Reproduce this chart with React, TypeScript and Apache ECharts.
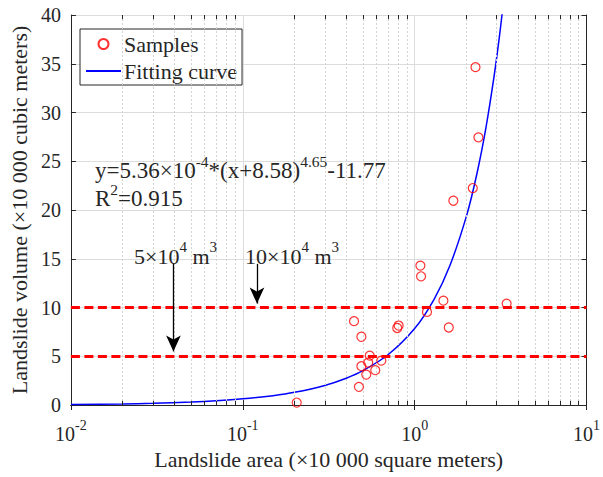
import React, { useEffect, useRef } from "react";
import * as echarts from "echarts";

const sampleArea = [0.206, 1.08, 1.09, 1.47, 3.43, 1.18, 0.444, 0.807, 0.792, 1.58, 0.49, 0.548, 0.537, 0.49, 0.64, 0.59, 0.523, 0.474, 2.26, 2.35, 2.18, 1.68];
const sampleVolume = [0.25, 14.3, 13.2, 10.7, 10.4, 9.55, 8.6, 8.15, 7.9, 7.95, 7.0, 5.07, 4.35, 3.98, 4.55, 3.57, 3.12, 1.86, 34.65, 27.45, 22.25, 20.95];

const curveArea = [0.01, 0.02, 0.03, 0.05, 0.07, 0.1, 0.15, 0.2, 0.3, 0.4, 0.5, 0.7, 1.0, 1.3, 1.6, 2.0, 2.3, 2.6, 2.9, 3.1, 3.25];
const curveVolume = [0.04, 0.1, 0.17, 0.3, 0.43, 0.63, 0.96, 1.3, 2.01, 2.75, 3.52, 5.15, 7.84, 10.87, 14.25, 19.35, 23.67, 28.45, 33.72, 37.52, 40.53];

const thresholdVolumes = [5, 10];
const minorTickValues = [
  0.02, 0.03, 0.04, 0.05, 0.06, 0.07, 0.08, 0.09,
  0.2, 0.3, 0.4, 0.5, 0.6, 0.7, 0.8, 0.9,
  2, 3, 4, 5, 6, 7, 8, 9,
];
// arrows: [x, yStart, yTip]
const arrowSpecs = [
  [0.0395, 14.47, 5.5],
  [0.121, 14.47, 10.4],
];

const X_MIN = 0.01;
const X_MAX = 10;
const Y_MIN = 0;
const Y_MAX = 40;
const Y_STEP = 5;

const FONT = "'Liberation Serif', 'Times New Roman', serif";
const TXT = "#262626";

const richMain = {
  a: { fontSize: 22, fontFamily: FONT, fill: TXT, lineHeight: 28, verticalAlign: "bottom" },
  s: { fontSize: 15, fontFamily: FONT, fill: TXT, lineHeight: 15, verticalAlign: "top" },
};
const richEq = {
  a: { fontSize: 23, fontFamily: FONT, fill: TXT, lineHeight: 28, verticalAlign: "bottom" },
  s: { fontSize: 15.5, fontFamily: FONT, fill: TXT, lineHeight: 15, verticalAlign: "top" },
};

export default function App() {
  const ref = useRef<HTMLDivElement>(null);
  useEffect(() => {
    document.body.style.margin = "0";
    if (!ref.current) return;
    const chart = echarts.init(ref.current, null, { renderer: "svg" });
    const samples = sampleArea.map((x, i) => [x, sampleVolume[i]]);
    const curve = curveArea.map((x, i) => [x, curveVolume[i]]);
    const minorTickLen = 0.42;
    const option: any = {
      animation: false,
      backgroundColor: "#fff",
      textStyle: { fontFamily: FONT },
      grid: { left: 65, right: 15, top: 15, bottom: 72, containLabel: false },
      legend: {
        data: [
          { name: "Samples" },
          { name: "Fitting curve", itemStyle: { color: "rgba(0,0,0,0)", borderWidth: 0, opacity: 0 } },
        ],
        orient: "vertical",
        left: 80,
        top: 29,
        padding: [4, 5, 3, 5],
        itemGap: 5,
        itemWidth: 35,
        itemHeight: 10,
        backgroundColor: "#fff",
        borderColor: "#262626",
        borderWidth: 1,
        borderRadius: 0,
        textStyle: { fontSize: 22, fontFamily: FONT, color: TXT, lineHeight: 22, padding: [0, 0, 0, -2] },
      },
      xAxis: [
        {
          type: "log",
          logBase: 10,
          min: X_MIN,
          max: X_MAX,
          position: "bottom",
          name: "Landslide area (×10 000 square meters)",
          nameLocation: "middle",
          nameGap: 43,
          nameTextStyle: { fontSize: 22, fontFamily: FONT, color: TXT },
          axisLine: { show: true, lineStyle: { color: TXT, width: 1 } },
          axisTick: { show: true, inside: true, length: 5, lineStyle: { color: TXT } },
          axisLabel: {
            margin: 13,
            formatter: (v: number) => `{a|10}{s|${Math.round(Math.log10(v))}}`,
            rich: {
              a: { fontSize: 20, fontFamily: FONT, color: TXT, lineHeight: 26, verticalAlign: "bottom" },
              s: { fontSize: 14, fontFamily: FONT, color: TXT, lineHeight: 14, verticalAlign: "top" },
            },
          },
          splitLine: { show: true, lineStyle: { color: "#dcdcdc", width: 1 } },
        },
        {
          type: "log",
          logBase: 10,
          min: X_MIN,
          max: X_MAX,
          position: "top",
          axisLine: { show: true, lineStyle: { color: TXT, width: 1 } },
          axisTick: { show: true, inside: true, length: 5, lineStyle: { color: TXT } },
          axisLabel: { show: false },
          splitLine: { show: false },
        },
      ],
      yAxis: [
        {
          type: "value",
          min: Y_MIN,
          max: Y_MAX,
          interval: Y_STEP,
          position: "left",
          name: "Landslide volume (×10 000 cubic meters)",
          nameLocation: "middle",
          nameGap: 34,
          nameTextStyle: { fontSize: 22, fontFamily: FONT, color: TXT },
          axisLine: { show: true, lineStyle: { color: TXT, width: 1 } },
          axisTick: { show: true, inside: true, length: 5, lineStyle: { color: TXT } },
          axisLabel: { fontSize: 20, fontFamily: FONT, color: TXT, margin: 10, padding: [6, 0, 0, 0] },
          splitLine: { show: true, lineStyle: { color: "#dcdcdc", width: 1 } },
        },
        {
          type: "value",
          min: Y_MIN,
          max: Y_MAX,
          interval: Y_STEP,
          position: "right",
          axisLine: { show: true, lineStyle: { color: TXT, width: 1 } },
          axisTick: { show: true, inside: true, length: 5, lineStyle: { color: TXT } },
          axisLabel: { show: false },
          splitLine: { show: false },
        },
      ],
      series: [
        {
          name: "minorGrid",
          type: "line",
          data: [],
          silent: true,
          z: 1,
          markLine: {
            silent: true,
            symbol: ["none", "none"],
            label: { show: false },
            lineStyle: { color: "#d3d3d3", width: 1, type: [2, 2] },
            data: minorTickValues.map((v) => ({ xAxis: v })),
          },
        },
        {
          name: "minorTicks",
          type: "line",
          data: [],
          silent: true,
          z: 1,
          markLine: {
            silent: true,
            symbol: ["none", "none"],
            label: { show: false },
            lineStyle: { color: TXT, width: 1, type: "solid" },
            data: [
              ...minorTickValues.map((v) => [{ coord: [v, Y_MIN] }, { coord: [v, Y_MIN + minorTickLen] }]),
              ...minorTickValues.map((v) => [{ coord: [v, Y_MAX] }, { coord: [v, Y_MAX - minorTickLen] }]),
            ],
          },
        },
        {
          name: "thresholds",
          type: "line",
          data: [],
          silent: true,
          z: 2,
          markLine: {
            silent: true,
            symbol: ["none", "none"],
            label: { show: false },
            lineStyle: { color: "#ff0000", width: 3, type: [9, 4.5] },
            data: thresholdVolumes.map((v) => ({ yAxis: v })),
          },
        },
        {
          name: "arrows",
          type: "line",
          data: [],
          silent: true,
          z: 3,
          markLine: {
            silent: true,
            symbol: ["none", "arrow"],
            symbolSize: [11, 16],
            label: { show: false },
            lineStyle: { color: "#000", width: 1.3, type: "solid" },
            itemStyle: { color: "#000" },
            data: arrowSpecs.map(([x, y0, y1]) => [{ coord: [x, y0] }, { coord: [x, y1] }]),
          },
        },
        {
          name: "Fitting curve",
          type: "line",
          data: curve,
          smooth: 0.3,
          symbol: "none",
          z: 4,
          lineStyle: { color: "#0000ff", width: 1.5 },
          itemStyle: { color: "#0000ff" },
        },
        {
          name: "Samples",
          type: "scatter",
          data: samples,
          symbol: "circle",
          symbolSize: 9,
          z: 5,
          itemStyle: { color: "rgba(255,255,255,0)", borderColor: "#ff0000", borderWidth: 1.2 },
        },
      ],
      graphic: [
        {
          type: "text",
          x: 95,
          y: 153.6,
          z: 10,
          style: {
            text: "{a|y=5.36×10}{s|-4}{a|*(x+8.58)}{s|4.65}{a|-11.77}",
            rich: richEq,
            align: "left",
            verticalAlign: "top",
          },
        },
        {
          type: "text",
          x: 95,
          y: 181.8,
          z: 10,
          style: {
            text: "{a|R}{s|2}{a|=0.915}",
            rich: richEq,
            align: "left",
            verticalAlign: "top",
          },
        },
        {
          type: "text",
          x: 134,
          y: 239.6,
          z: 10,
          style: { text: "{a|5×10}{s|4}{a| m}{s|3}", rich: richMain, align: "left", verticalAlign: "top" },
        },
        {
          type: "text",
          x: 245,
          y: 239.6,
          z: 10,
          style: { text: "{a|10×10}{s|4}{a| m}{s|3}", rich: richMain, align: "left", verticalAlign: "top" },
        },
      ],
    };
    chart.setOption(option);
    return () => chart.dispose();
  }, []);
  return <div ref={ref} style={{ width: 603, height: 477 }} />;
}
